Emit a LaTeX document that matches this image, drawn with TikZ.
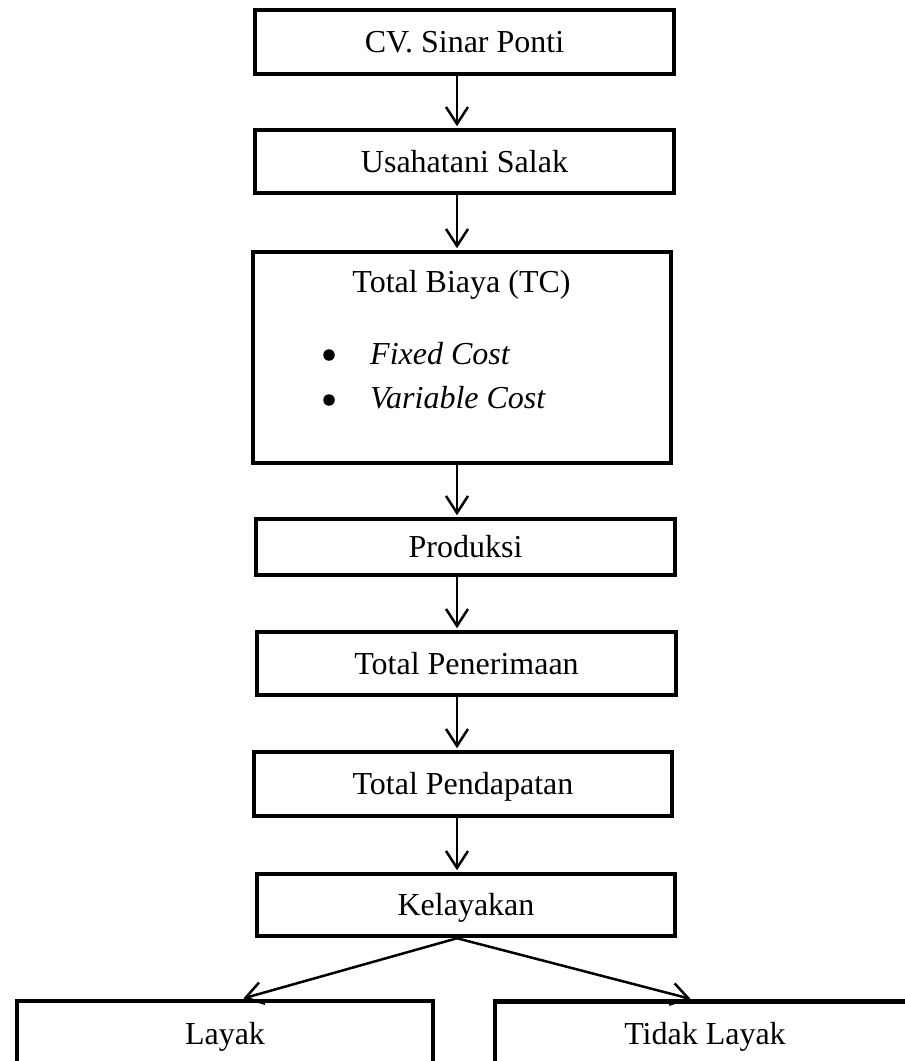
\documentclass[tikz,border=0pt]{standalone}
\usepackage{fontspec}
\setmainfont{Liberation Serif}
\usetikzlibrary{arrows.meta}
\tikzset{
  box/.style={draw, line width=4.5pt, rectangle, inner sep=0pt, anchor=center,
    font=\fontsize{32}{38}\selectfont, text height=21.5pt, text depth=0pt},
  txt/.style={inner sep=0pt, font=\fontsize{32}{38}\selectfont},
  bulletdot/.style={circle, fill=black, inner sep=0pt, minimum size=11.5pt},
  arr/.style={line width=2.5pt, -{Straight Barb[length=17pt,width=22pt,line width=2.5pt]}, shorten >=1.5pt}
}
\begin{document}
\begin{tikzpicture}[x=1pt,y=-1pt]
\useasboundingbox (0,0) rectangle (905,1061);
\clip (0,0) rectangle (905,1061);
\fill[white] (0,0) rectangle (905,1061);
\coordinate (axis) at (457,0);
\node[box, minimum width=419, minimum height=64] (b1) at (464.5,42) {CV. Sinar Ponti};
\node[box, minimum width=419, minimum height=63] (b2) at (464.5,161.5) {Usahatani Salak};
\node[box, minimum width=418, minimum height=211] (b3) at (462,357.5) {};
\node[txt, anchor=base] (t3) at (461.5,292) {Total Biaya (TC)};
\node[bulletdot] (bul1) at (329,355) {};
\node[txt, anchor=base west] (fc) at (370,364) {\itshape Fixed Cost};
\node[bulletdot] (bul2) at (329,400) {};
\node[txt, anchor=base west] (vc) at (370,408) {\itshape Variable Cost};
\node[box, minimum width=419, minimum height=56] (b4) at (465.5,547) {Produksi};
\node[box, minimum width=419, minimum height=63] (b5) at (466.5,663.5) {Total Penerimaan};
\node[box, minimum width=418, minimum height=64] (b6) at (463,784) {Total Pendapatan};
\node[box, minimum width=418, minimum height=62] (b7) at (466,905) {Kelayakan};
\node[box, minimum width=416, minimum height=65] (layak) at (225,1033.5) {Layak};
\node[box, minimum width=420, minimum height=65] (tidak) at (705,1034) {Tidak Layak};
\draw[arr] (b1.south -| axis) -- (b2.north -| axis);
\draw[arr] (b2.south -| axis) -- (b3.north -| axis);
\draw[arr] (b3.south -| axis) -- (b4.north -| axis);
\draw[arr] (b4.south -| axis) -- (b5.north -| axis);
\draw[arr] (b5.south -| axis) -- (b6.north -| axis);
\draw[arr] (b6.south -| axis) -- (b7.north -| axis);
\draw[arr] (b7.south -| axis) -- ([xshift=17]layak.north);
\draw[arr] (b7.south -| axis) -- ([xshift=-13]tidak.north);
\end{tikzpicture}
\end{document}
